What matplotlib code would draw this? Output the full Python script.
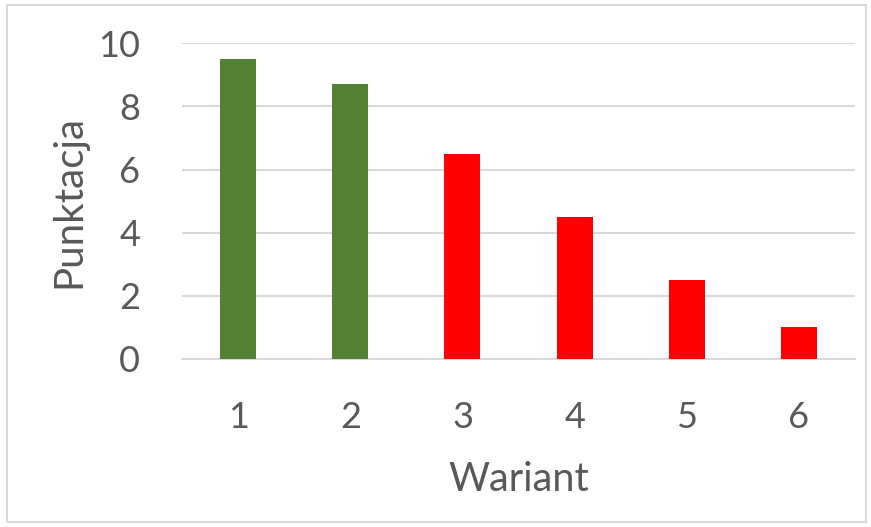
import matplotlib.pyplot as plt
from matplotlib.patches import Rectangle

warianty = ["1", "2", "3", "4", "5", "6"]
punktacja = [9.5, 8.7, 6.5, 4.5, 2.5, 1.0]
kolory = ["#548235", "#548235", "#FF0000", "#FF0000", "#FF0000", "#FF0000"]

plt.rcParams["font.family"] = ["Lato", "DejaVu Sans"]
text_color = "#595959"
grid_color = "#D9D9D9"

fig = plt.figure(figsize=(8.71, 5.27), dpi=100)
fig.patch.set_facecolor("white")
ax = fig.add_axes([0.209, 0.3188, 0.7726, 0.599])

x = list(range(1, len(warianty) + 1))
ax.bar(x, punktacja, width=0.32, color=kolory, zorder=3)

ax.set_xlim(0.5, len(warianty) + 0.5)
ax.set_ylim(0, 10)
ax.set_yticks([0, 2, 4, 6, 8, 10])
ax.set_xticks(x)
ax.set_xticklabels(warianty)

ax.yaxis.grid(True, color=grid_color, linewidth=1.5, zorder=0)
ax.set_axisbelow(True)
for side in ["top", "right", "left"]:
    ax.spines[side].set_visible(False)
ax.spines["bottom"].set_color(grid_color)
ax.spines["bottom"].set_linewidth(1.5)

ax.tick_params(axis="both", length=0, labelsize=26, labelcolor=text_color)
ax.tick_params(axis="y", pad=30)
ax.tick_params(axis="x", pad=30)

ax.set_xlabel("Wariant", fontsize=28.5, color=text_color, labelpad=20)
ax.set_ylabel("Punktacja", fontsize=29, color=text_color, labelpad=8)

# light frame around the whole chart
fig.add_artist(Rectangle((7 / 871, 5 / 527), 859 / 871, 517 / 527,
                         transform=fig.transFigure, fill=False,
                         edgecolor=grid_color, linewidth=1.5))

fig.savefig("out.png", dpi=100)
